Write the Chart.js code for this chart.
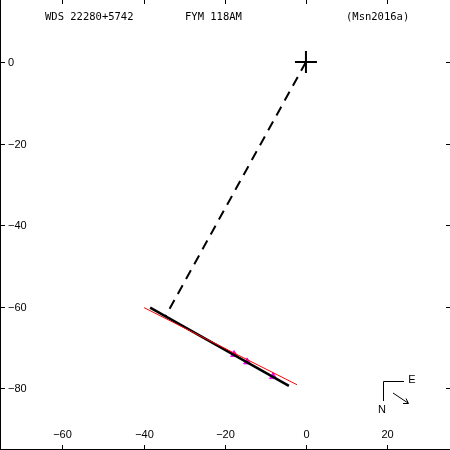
<!DOCTYPE html>
<html><head><meta charset="utf-8">
<script src="https://cdn.jsdelivr.net/npm/chart.js@4"></script>
<style>html,body{margin:0;padding:0;background:#fff}#wrap{width:450px;height:450px}</style>
</head><body><div id="wrap"><canvas id="c" width="450" height="450"></canvas></div>
<script>
const titleLabels = ["WDS 22280+5742", "FYM 118AM", "(Msn2016a)"];
const xTicks = [-60, -40, -20, 0, 20];
const yTicks = [0, -20, -40, -60, -80];
const primary = [{x: 0, y: 0}];
const nodeLine = [{x: 0, y: 0}, {x: -34.6, y: -62.3}];
const orbitArc = [{x: -38.4, y: -60.2}, {x: -4.2, y: -79.4}];
const fitLine = [{x: -39.9, y: -60.2}, {x: -2.2, y: -79.1}];
const observations = [{x: -17.7, y: -71.7}, {x: -14.5, y: -73.5}, {x: -8.1, y: -77.1}];

const decor = {
  id: 'decor',
  afterDraw(chart) {
    const ctx = chart.ctx, xs = chart.scales.x, ys = chart.scales.y;
    ctx.save();
    ctx.strokeStyle = '#000'; ctx.fillStyle = '#000'; ctx.lineWidth = 1;
    ctx.beginPath(); ctx.moveTo(0.5, 0); ctx.lineTo(0.5, 450); ctx.moveTo(0, 449.5); ctx.lineTo(450, 449.5); ctx.stroke();
    ctx.font = '11px "Liberation Sans", Arial, sans-serif';
    ctx.textBaseline = 'middle';
    xTicks.forEach(v => {
      const px = Math.round(xs.getPixelForValue(v)) + 0.5;
      ctx.beginPath(); ctx.moveTo(px, 0); ctx.lineTo(px, 4); ctx.moveTo(px, 445); ctx.lineTo(px, 450); ctx.stroke();
      ctx.textAlign = 'center';
      ctx.fillText(v < 0 ? '\u2212' + Math.abs(v) : String(v), px, 435);
    });
    yTicks.forEach(v => {
      const py = Math.round(ys.getPixelForValue(v)) + 0.5;
      ctx.beginPath(); ctx.moveTo(0, py); ctx.lineTo(5, py); ctx.moveTo(446, py); ctx.lineTo(450, py); ctx.stroke();
      ctx.textAlign = 'left';
      ctx.fillText(v < 0 ? '\u2212' + Math.abs(v) : String(v), 8, py);
    });
    ctx.font = '10.5px "DejaVu Sans Mono", monospace';
    ctx.textAlign = 'left';
    ctx.fillText(titleLabels[0], 45, 17);
    ctx.fillText(titleLabels[1], 185, 17);
    ctx.fillText(titleLabels[2], 346, 17);
    ctx.beginPath();
    ctx.moveTo(383.5, 401); ctx.lineTo(383.5, 381.5); ctx.lineTo(404, 381.5);
    ctx.moveTo(393, 393); ctx.lineTo(408, 403);
    ctx.moveTo(403, 403.5); ctx.lineTo(408.5, 403.5); ctx.lineTo(406, 398.5);
    ctx.stroke();
    ctx.font = '11px "Liberation Sans", Arial, sans-serif';
    ctx.textAlign = 'center';
    ctx.fillText('E', 412, 380);
    ctx.fillText('N', 382, 410);
    ctx.restore();
  }
};

new Chart(document.getElementById('c'), {
  type: 'scatter',
  data: {
    datasets: [
      {data: observations, pointStyle: 'triangle', radius: 4, backgroundColor: '#ff00ff', borderColor: '#ff00ff', borderWidth: 1, showLine: false, order: 5},
      {data: orbitArc, showLine: true, borderColor: '#000', borderWidth: 2.5, pointRadius: 0, order: 4},
      {data: fitLine, showLine: true, borderColor: '#ff0000', borderWidth: 1, pointRadius: 0, order: 3},
      {data: nodeLine, showLine: true, borderColor: '#000', borderWidth: 2, borderDash: [10, 7], pointRadius: 0, order: 2},
      {data: primary, pointStyle: 'cross', radius: 11, borderColor: '#000', borderWidth: 2, order: 1}
    ]
  },
  options: {
    responsive: false, animation: false, events: [],
    layout: {padding: 0, autoPadding: false},
    plugins: {legend: {display: false}, tooltip: {enabled: false}, title: {display: false}},
    scales: {
      x: {type: 'linear', min: -75.4, max: 35.5, display: false},
      y: {type: 'linear', min: -95.1, max: 15.2, display: false}
    }
  },
  plugins: [decor]
});
</script></body></html>
